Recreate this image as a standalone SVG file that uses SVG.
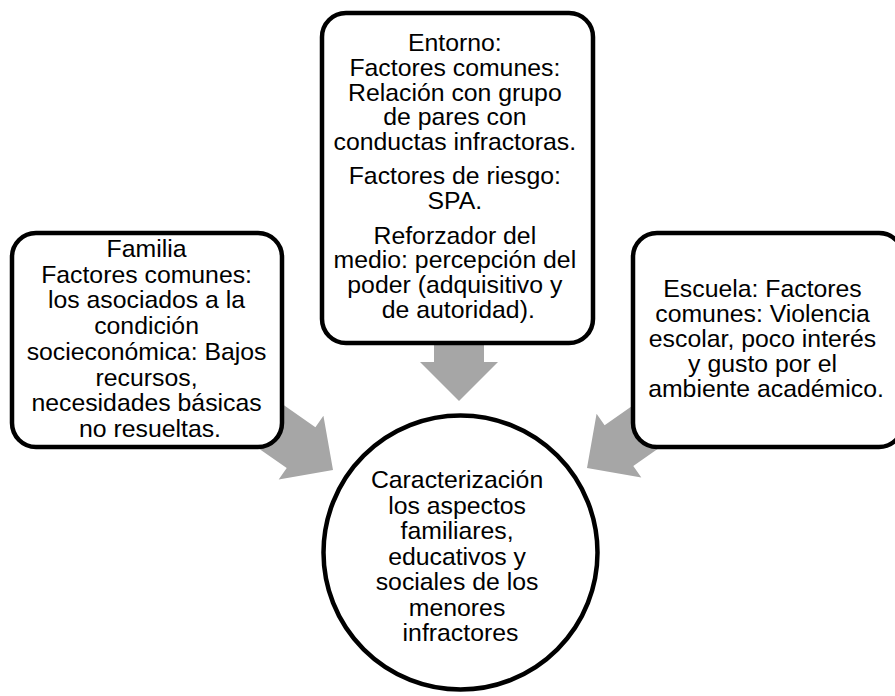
<svg xmlns="http://www.w3.org/2000/svg" xmlns:xlink="http://www.w3.org/1999/xlink" width="895" height="696" viewBox="0 0 895 696">
<style>
.box{fill:#fff;stroke:#000;stroke-width:4.5}
.arrow{fill:#a6a6a6}
text{font-family:"Liberation Sans",Arial,sans-serif;font-size:24.8px;fill:#000;text-anchor:middle}
</style>
<defs>
<polygon id="arr" points="0,0 -39,-39 -39,-25 -100,-25 -100,25 -39,25 -39,39"/>
</defs>
<g id="connectors">
<use xlink:href="#arr" class="arrow" transform="translate(459,401) rotate(90)"/>
<use xlink:href="#arr" class="arrow" transform="translate(333,470) rotate(35)"/>
<use xlink:href="#arr" class="arrow" transform="translate(587,468) rotate(145)"/>
</g>
<g id="entorno">
<rect class="box" x="322" y="13" width="271" height="330" rx="24"/>
<text>
<tspan x="458.3" y="51">Entorno:</tspan>
<tspan x="458.3" y="75.8">Factores comunes:</tspan>
<tspan x="458.3" y="100.6">Relación con grupo</tspan>
<tspan x="458.3" y="125.4">de pares con</tspan>
<tspan x="458.3" y="150.2">conductas infractoras.</tspan>
<tspan x="458.3" y="184">Factores de riesgo:</tspan>
<tspan x="458.3" y="208.8">SPA.</tspan>
<tspan x="458.3" y="243.5">Reforzador del</tspan>
<tspan x="458.3" y="268.3">medio: percepción del</tspan>
<tspan x="458.3" y="293.1">poder (adquisitivo y</tspan>
<tspan x="458.3" y="317.9">de autoridad).</tspan>
</text>
</g>
<g id="familia">
<rect class="box" x="12" y="233" width="270" height="214" rx="24"/>
<text>
<tspan x="150" y="257">Familia</tspan>
<tspan x="150" y="282.7">Factores comunes:</tspan>
<tspan x="150" y="308.4">los asociados a la</tspan>
<tspan x="150" y="334.1">condición</tspan>
<tspan x="150" y="359.8">socieconómica: Bajos</tspan>
<tspan x="150" y="385.5">recursos,</tspan>
<tspan x="150" y="411.2">necesidades básicas</tspan>
<tspan x="150" y="436.9">no resueltas.</tspan>
</text>
</g>
<g id="escuela">
<rect class="box" x="633" y="233" width="270" height="214" rx="24"/>
<text>
<tspan x="766" y="296.7">Escuela: Factores</tspan>
<tspan x="766" y="321.7">comunes: Violencia</tspan>
<tspan x="766" y="346.7">escolar, poco interés</tspan>
<tspan x="766" y="371.7">y gusto por el</tspan>
<tspan x="766" y="396.7">ambiente académico.</tspan>
</text>
</g>
<g id="centro">
<circle class="box" cx="460.5" cy="552.5" r="137"/>
<text>
<tspan x="460.5" y="488">Caracterización</tspan>
<tspan x="460.5" y="513.5">los aspectos</tspan>
<tspan x="460.5" y="539">familiares,</tspan>
<tspan x="460.5" y="564.5">educativos y</tspan>
<tspan x="460.5" y="590">sociales de los</tspan>
<tspan x="460.5" y="615.5">menores</tspan>
<tspan x="460.5" y="641">infractores</tspan>
</text>
</g>
</svg>
